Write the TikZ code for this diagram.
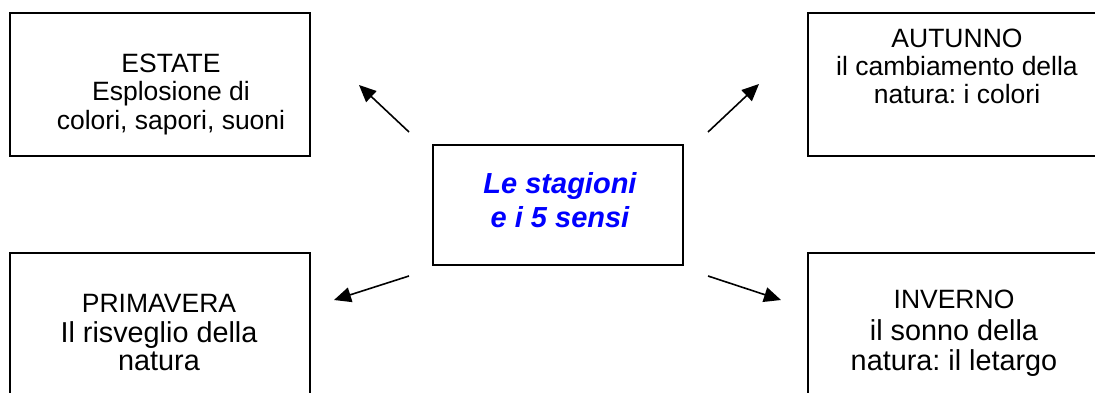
\documentclass[tikz,border=0pt]{standalone}
\usepackage{fontspec}
\setmainfont{Liberation Sans}
\usetikzlibrary{arrows.meta}
\frenchspacing
\begin{document}
\begin{tikzpicture}[x=1pt,y=-1pt,
  boxstyle/.style={draw=black,line width=1.4pt},
  lbl/.style={anchor=base,inner sep=0pt,font=\fontsize{26.5}{30}\selectfont},
  lblbig/.style={anchor=base,inner sep=0pt,font=\fontsize{28.8}{33}\selectfont},
  ctr/.style={anchor=base,inner sep=0pt,text=ctrblue,font=\fontsize{29}{32}\selectfont\bfseries\itshape},
  arr/.style={line width=1.6pt,-{Triangle[length=17pt,width=15pt]}}]
\definecolor{ctrblue}{RGB}{0,0,255}
\useasboundingbox (0,0) rectangle (1095,392);
% boxes
\draw[boxstyle] (10,13) rectangle (310,156);
\draw[boxstyle] (808,13) rectangle (1105,156);
\draw[boxstyle] (10,253) rectangle (310,410);
\draw[boxstyle] (808,253) rectangle (1105,410);
\draw[boxstyle] (433,145) rectangle (683,265);
% texts
\node[lbl] (e1) at (171,72) {ESTATE};
\node[lbl] (e2) at (171,100) {Esplosione di};
\node[lbl] (e3) at (171,129) {colori, sapori, suoni};
\node[lbl] (a1) at (957,47) {AUTUNNO};
\node[lbl] (a2) at (957,75) {il cambiamento della};
\node[lbl] (a3) at (957,103) {natura: i colori};
\node[lbl] (p1) at (159,312) {PRIMAVERA};
\node[lblbig] (p2) at (159,342) {Il risveglio della};
\node[lblbig] (p3) at (159,370) {natura};
\node[lbl] (i1) at (954,308) {INVERNO};
\node[lblbig] (i2) at (954,340) {il sonno della};
\node[lblbig] (i3) at (954,370) {natura: il letargo};
\node[ctr] (c1) at (560,193) {Le stagioni};
\node[ctr] (c2) at (560,227) {e i 5 sensi};
% arrow endpoints
\coordinate (s1) at (409,132); \coordinate (t1) at (359,85);
\coordinate (s2) at (708,132); \coordinate (t2) at (759,84);
\coordinate (s3) at (409,276); \coordinate (t3) at (334,300);
\coordinate (s4) at (708,276); \coordinate (t4) at (781,300);
\draw[arr] (s1) -- (t1);
\draw[arr] (s2) -- (t2);
\draw[arr] (s3) -- (t3);
\draw[arr] (s4) -- (t4);
\end{tikzpicture}
\end{document}
